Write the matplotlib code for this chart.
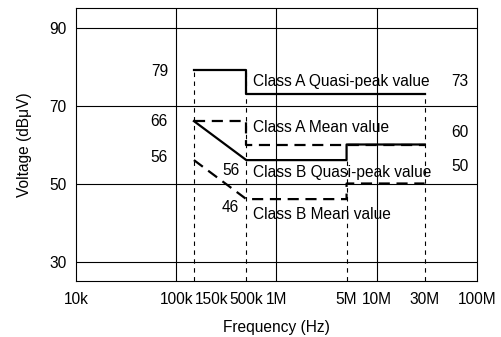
import numpy as np
import matplotlib
matplotlib.use("Agg")
import matplotlib.pyplot as plt

plt.rcParams['font.family'] = ['Liberation Sans', 'DejaVu Sans']

# limits (frequency in Hz, level in dBuV)
a_qp_f = [150e3, 500e3, 500e3, 30e6]
a_qp_v = [79, 79, 73, 73]
a_av_f = [150e3, 500e3, 500e3, 30e6]
a_av_v = [66, 66, 60, 60]
b_qp_f = [150e3, 500e3, 5e6, 5e6, 30e6]
b_qp_v = [66, 56, 56, 60, 60]
b_av_f = [150e3, 500e3, 5e6, 5e6, 30e6]
b_av_v = [56, 46, 46, 50, 50]

# thin drop lines (frequency, top level)
drop_f = [150e3, 500e3, 5e6, 30e6]
drop_top = [79, 79, 56, 73]

tick_f = [1e4, 1e5, 5e5, 1e6, 5e6, 1e7, 3e7, 1e8]
tick_lab = ['10k', '100k', '500k', '1M', '5M', '10M', '30M', '100M']
y_ticks = [30, 50, 70, 90]

fs = 11.2
fig = plt.figure(figsize=(5.02, 3.37), dpi=100)
ax = fig.add_axes([76/502, 1-281/337, 401/502, 273/337])
ax.set_xscale('log')
ax.set_xlim(1e4, 1e8)
ax.set_ylim(25, 95)

for v in y_ticks:
    ax.axhline(v, color='black', lw=0.8, zorder=1)
for f in [1e5, 1e6, 1e7]:
    ax.axvline(f, color='black', lw=0.8, zorder=1)

for f, t in zip(drop_f, drop_top):
    ax.plot([f, f], [25, t], color='black', lw=0.8, ls=(0, (4, 4)), zorder=2)

ax.plot(a_qp_f, a_qp_v, color='black', lw=1.6, zorder=3)
ax.plot(a_av_f, a_av_v, color='black', lw=1.6, ls=(0, (5, 3)), zorder=3)
ax.plot(b_qp_f, b_qp_v, color='black', lw=1.6, zorder=4)
ax.plot(b_av_f, b_av_v, color='black', lw=1.6, ls=(0, (5, 3)), zorder=3)

ax.set_xticks(tick_f)
ax.set_xticklabels(tick_lab, fontsize=fs)
ax.xaxis.set_minor_locator(matplotlib.ticker.NullLocator())
ax.set_yticks(y_ticks)
ax.set_yticklabels([str(v) for v in y_ticks], fontsize=fs)
ax.tick_params(length=0, pad=8)
ax.tick_params(axis='y', pad=7)
ax.annotate('150k', xy=(150e3, 0), xycoords=('data', 'axes fraction'),
            xytext=(18, -11), textcoords='offset pixels',
            ha='center', va='top', fontsize=fs)

for s in ax.spines.values():
    s.set_linewidth(0.8)

ax.set_xlabel('Frequency (Hz)', fontsize=fs, labelpad=9)
ax.set_ylabel('Voltage (dBμV)', fontsize=fs, labelpad=12)

def note(txt, x, y, dx, dy, ha='center', xc='data'):
    ax.annotate(txt, xy=(x, y), xycoords=(xc, 'data'), xytext=(dx, dy),
                textcoords='offset pixels', ha=ha, va='center', fontsize=fs)

# level numbers left of 150k
note('79', 150e3, 79, -26, -1, ha='right')
note('66', 150e3, 66, -26, 0, ha='right')
note('56', 150e3, 56, -26, 3, ha='right')
# level numbers at 500k
note('56', 500e3, 56, -7, -10, ha='right')
note('46', 500e3, 46, -7, -8, ha='right')
# right side numbers
note('73', 1, 73, -17, 12, xc='axes fraction')
note('60', 1, 60, -17, 12, xc='axes fraction')
note('50', 1, 50, -17, 17, xc='axes fraction')
# class labels
note('Class A Quasi-peak value', 500e3, 73, 7, 12, ha='left')
note('Class A Mean value', 500e3, 60, 7, 17, ha='left')
note('Class B Quasi-peak value', 500e3, 56, 7, -12, ha='left')
note('Class B Mean value', 500e3, 46, 7, -15, ha='left')

fig.savefig('out.png', dpi=100)
